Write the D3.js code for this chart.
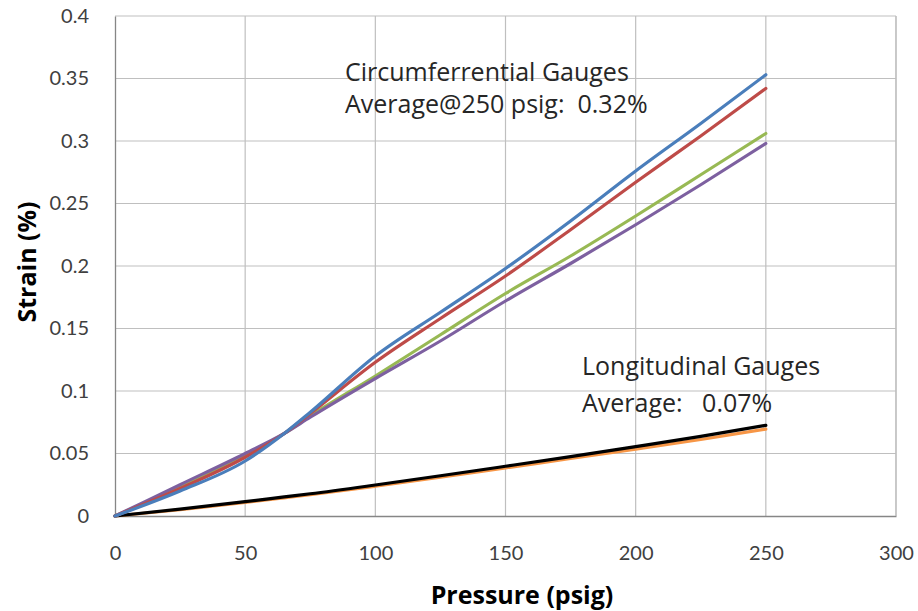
<!DOCTYPE html>
<html><head><meta charset="utf-8">
<script src="https://cdn.jsdelivr.net/npm/d3@7/dist/d3.min.js"></script>
<style>body{margin:0;background:#fff;}</style>
</head><body><svg id="c" width="918" height="611"></svg>
<script>
const pressure = [0, 25, 50, 65, 75, 100, 125, 150, 175, 200, 225, 250];
const circBlue   = [0, 0.020, 0.044, 0.066, 0.083, 0.128, 0.163, 0.198, 0.236, 0.276, 0.314, 0.353];
const circRed    = [0, 0.022, 0.047, 0.066, 0.082, 0.123, 0.158, 0.192, 0.229, 0.267, 0.304, 0.342];
const circGreen  = [0, 0.023, 0.048, 0.066, 0.080, 0.112, 0.145, 0.178, 0.208, 0.240, 0.273, 0.306];
const circPurple = [0, 0.025, 0.050, 0.066, 0.079, 0.110, 0.140, 0.172, 0.202, 0.233, 0.265, 0.298];
const longBlack  = [0, 0.0055, 0.0115, 0.0153, 0.0178, 0.0248, 0.0322, 0.0398, 0.0475, 0.0555, 0.0637, 0.0725];
const longOrange = [0, 0.0050, 0.0108, 0.0145, 0.0170, 0.0238, 0.0310, 0.0385, 0.0460, 0.0535, 0.0612, 0.0695];
const xTicks = [0, 50, 100, 150, 200, 250, 300];
const yTicks = [0, 0.05, 0.1, 0.15, 0.2, 0.25, 0.3, 0.35, 0.4];
const seriesList = [
  {v: longOrange, c: "#f79646"},
  {v: longBlack, c: "#000000"},
  {v: circGreen, c: "#98b954"},
  {v: circPurple, c: "#7d60a0"},
  {v: circRed, c: "#be4b48"},
  {v: circBlue, c: "#4a7ebb"}
];

const svg = d3.select("#c").style("font-family", "Lato, sans-serif");
const L = 115, R = 896, T = 16, B = 516;
const x = d3.scaleLinear().domain([0, 300]).range([L, R]);
const y = d3.scaleLinear().domain([0, 0.4]).range([B, T]);

// gridlines
svg.append("g").selectAll("line").data(yTicks.slice(1)).join("line")
  .attr("x1", L).attr("x2", R).attr("y1", d => y(d)).attr("y2", d => y(d))
  .attr("stroke", "#bfbfbf").attr("stroke-width", 1.2);
svg.append("g").selectAll("line").data(xTicks.slice(1)).join("line")
  .attr("y1", T).attr("y2", B).attr("x1", d => x(d)).attr("x2", d => x(d))
  .attr("stroke", "#bfbfbf").attr("stroke-width", 1.2);

// axes
const xa = svg.append("g").attr("transform", `translate(0,${B})`)
  .call(d3.axisBottom(x).tickValues(xTicks).tickSize(0).tickPadding(30).tickFormat(d3.format("d")));
const ya = svg.append("g").attr("transform", `translate(${L},0)`)
  .call(d3.axisLeft(y).tickValues(yTicks).tickSize(0).tickPadding(26).tickFormat(d => d === 0 ? "0" : d3.format("")(+d.toFixed(2))));
[xa, ya].forEach(a => {
  a.select(".domain").attr("stroke", "#868686").attr("stroke-width", 1.3);
  a.selectAll("text").attr("font-size", 20).attr("fill", "#404040").style("font-family", "Lato, sans-serif");
});
svg.append("line").attr("x1", R).attr("x2", R).attr("y1", T).attr("y2", B).attr("stroke", "#bfbfbf").attr("stroke-width", 1.2);

// lines
const line = d3.line().x((d, i) => x(pressure[i])).y(d => y(d)).curve(d3.curveMonotoneX);
svg.append("g").selectAll("path").data(seriesList).join("path")
  .attr("d", s => line(s.v)).attr("fill", "none")
  .attr("stroke", s => s.c).attr("stroke-width", 3.2).attr("stroke-linecap", "round");

// annotations
const ann = svg.append("g").attr("font-size", 25).attr("fill", "#262626");
const annTexts = [
  [345, 81, "Circumferrential Gauges"],
  [345, 113, "Average@250 psig:  0.32%"],
  [582, 375, "Longitudinal Gauges"],
  [582, 412, "Average:   0.07%"]
];
ann.selectAll("text").data(annTexts).join("text")
  .attr("x", d => d[0]).attr("y", d => d[1]).attr("xml:space", "preserve")
  .style("font-family", "'Open Sans', sans-serif").style("white-space", "pre")
  .text(d => d[2]);

// axis titles
svg.append("text").attr("x", 522).attr("y", 604).attr("text-anchor", "middle")
  .style("font-family", "'Open Sans', sans-serif")
  .attr("font-size", 25).attr("font-weight", "bold").attr("fill", "#000").text("Pressure (psig)");
svg.append("text").attr("transform", `translate(36,${262}) rotate(-90)`).attr("text-anchor", "middle")
  .style("font-family", "'Open Sans', sans-serif")
  .attr("font-size", 25).attr("font-weight", "bold").attr("fill", "#000").text("Strain (%)");
</script></body></html>
